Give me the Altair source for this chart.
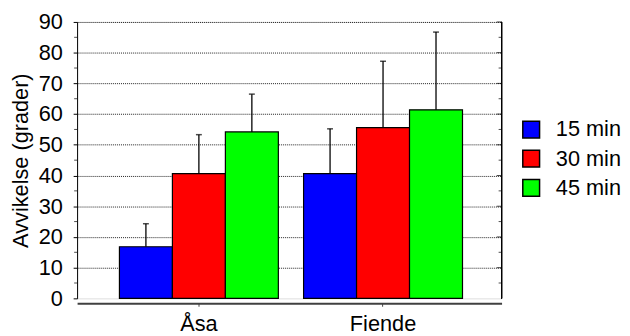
import altair as alt
import pandas as pd

groups = ["Åsa", "Fiende"]
times = ["15 min", "30 min", "45 min"]
means_asa = [16.8, 40.6, 54.2]
means_fiende = [40.6, 55.6, 61.4]
err_asa = [7.5, 12.7, 12.3]
err_fiende = [14.6, 21.6, 25.3]
colors = ["#0000FF", "#FF0000", "#00FF00"]
major_ticks = list(range(0, 100, 10))
minor_ticks = list(range(5, 90, 10))

rows = []
for g, ms, es in [("Åsa", means_asa, err_asa), ("Fiende", means_fiende, err_fiende)]:
    for t, m, e in zip(times, ms, es):
        rows.append({"group": g, "time": t, "mean": m, "top": m + e})
df = pd.DataFrame(rows)
df_major = pd.DataFrame({"v": major_ticks[1:]})
df_minor = pd.DataFrame({"v": minor_ticks})

W, H = 430, 280
FONT = "Liberation Sans"
YTITLE = "Avvikelse (grader)"

yscale = alt.Scale(domain=[0, 90], nice=False, zero=True)
yaxis = alt.Axis(values=major_ticks, grid=True, gridDash=[1, 1], gridColor="#222222",
                 gridWidth=1,
                 gridOpacity={"condition": {"test": "datum.value == 0", "value": 0}, "value": 1},
                 domainColor="black", domainWidth=1, tickColor="black", tickSize=4,
                 labelFontSize=22, labelPadding=11, labelColor="black", labelFont=FONT,
                 titleFontSize=22, titleFontWeight="normal", titleFont=FONT,
                 titleColor="black", titlePadding=5.5)

x = alt.X(
    "group:N", sort=groups, title=None,
    scale=alt.Scale(paddingInner=0.137, paddingOuter=0.221, align=0.52),
    axis=alt.Axis(offset=5, domainColor="#404040", domainWidth=2, tickColor="#404040",
                  tickSize=3, bandPosition=0.5, labelFontSize=22, labelAngle=0,
                  labelPadding=8, labelColor="black", labelFont=FONT),
)
xo = alt.XOffset("time:N", sort=times, scale=alt.Scale(paddingInner=0, paddingOuter=0))

bars = alt.Chart(df).mark_bar(stroke="black", strokeWidth=1.2, opacity=1).encode(
    x=x, xOffset=xo,
    y=alt.Y("mean:Q", scale=yscale, title=YTITLE, axis=yaxis),
    color=alt.Color("time:N", sort=times, scale=alt.Scale(domain=times, range=colors),
                    legend=alt.Legend(orient="none", legendX=449, legendY=98, title=None,
                                      symbolType="square", symbolSize=289,
                                      symbolStrokeColor="black", symbolStrokeWidth=1.5,
                                      symbolOpacity=1, labelFontSize=22, labelFont=FONT,
                                      labelColor="black", labelOffset=14, rowPadding=5.5)),
)

err = alt.Chart(df).mark_rule(color="black", strokeWidth=1.3).encode(
    x=x, xOffset=xo,
    y=alt.Y("mean:Q", scale=yscale, title=YTITLE, axis=yaxis), y2="top:Q",
)
caps = alt.Chart(df).mark_tick(color="black", thickness=1.5, size=6, orient="horizontal").encode(
    x=x, xOffset=xo,
    y=alt.Y("top:Q", scale=yscale, title=YTITLE, axis=yaxis),
)

left_minor = alt.Chart(df_minor).mark_tick(color="black", thickness=1, size=3, orient="horizontal").encode(
    x=alt.value(-1.5), y=alt.Y("v:Q", scale=yscale, title=YTITLE, axis=yaxis))
right_major = alt.Chart(df_major).mark_tick(color="black", thickness=1, size=5, orient="horizontal").encode(
    x=alt.value(W - 2.5), y=alt.Y("v:Q", scale=yscale, title=YTITLE, axis=yaxis))
right_minor = alt.Chart(df_minor).mark_tick(color="black", thickness=1, size=3, orient="horizontal").encode(
    x=alt.value(W - 1.5), y=alt.Y("v:Q", scale=yscale, title=YTITLE, axis=yaxis))
right_line = alt.Chart(df_major).mark_rule(color="black", strokeWidth=1).encode(
    x=alt.value(W), y=alt.value(0), y2=alt.value(H))

chart = alt.layer(bars, err, caps, left_minor, right_major, right_minor, right_line).properties(
    width=W, height=H,
    autosize=alt.AutoSizeParams(type="none"),
    padding={"left": 70, "top": 12, "right": 122, "bottom": 36},
).configure_view(stroke=None).configure(font=FONT)

chart.save("out.html", embed_options={"renderer": "svg", "actions": False})
